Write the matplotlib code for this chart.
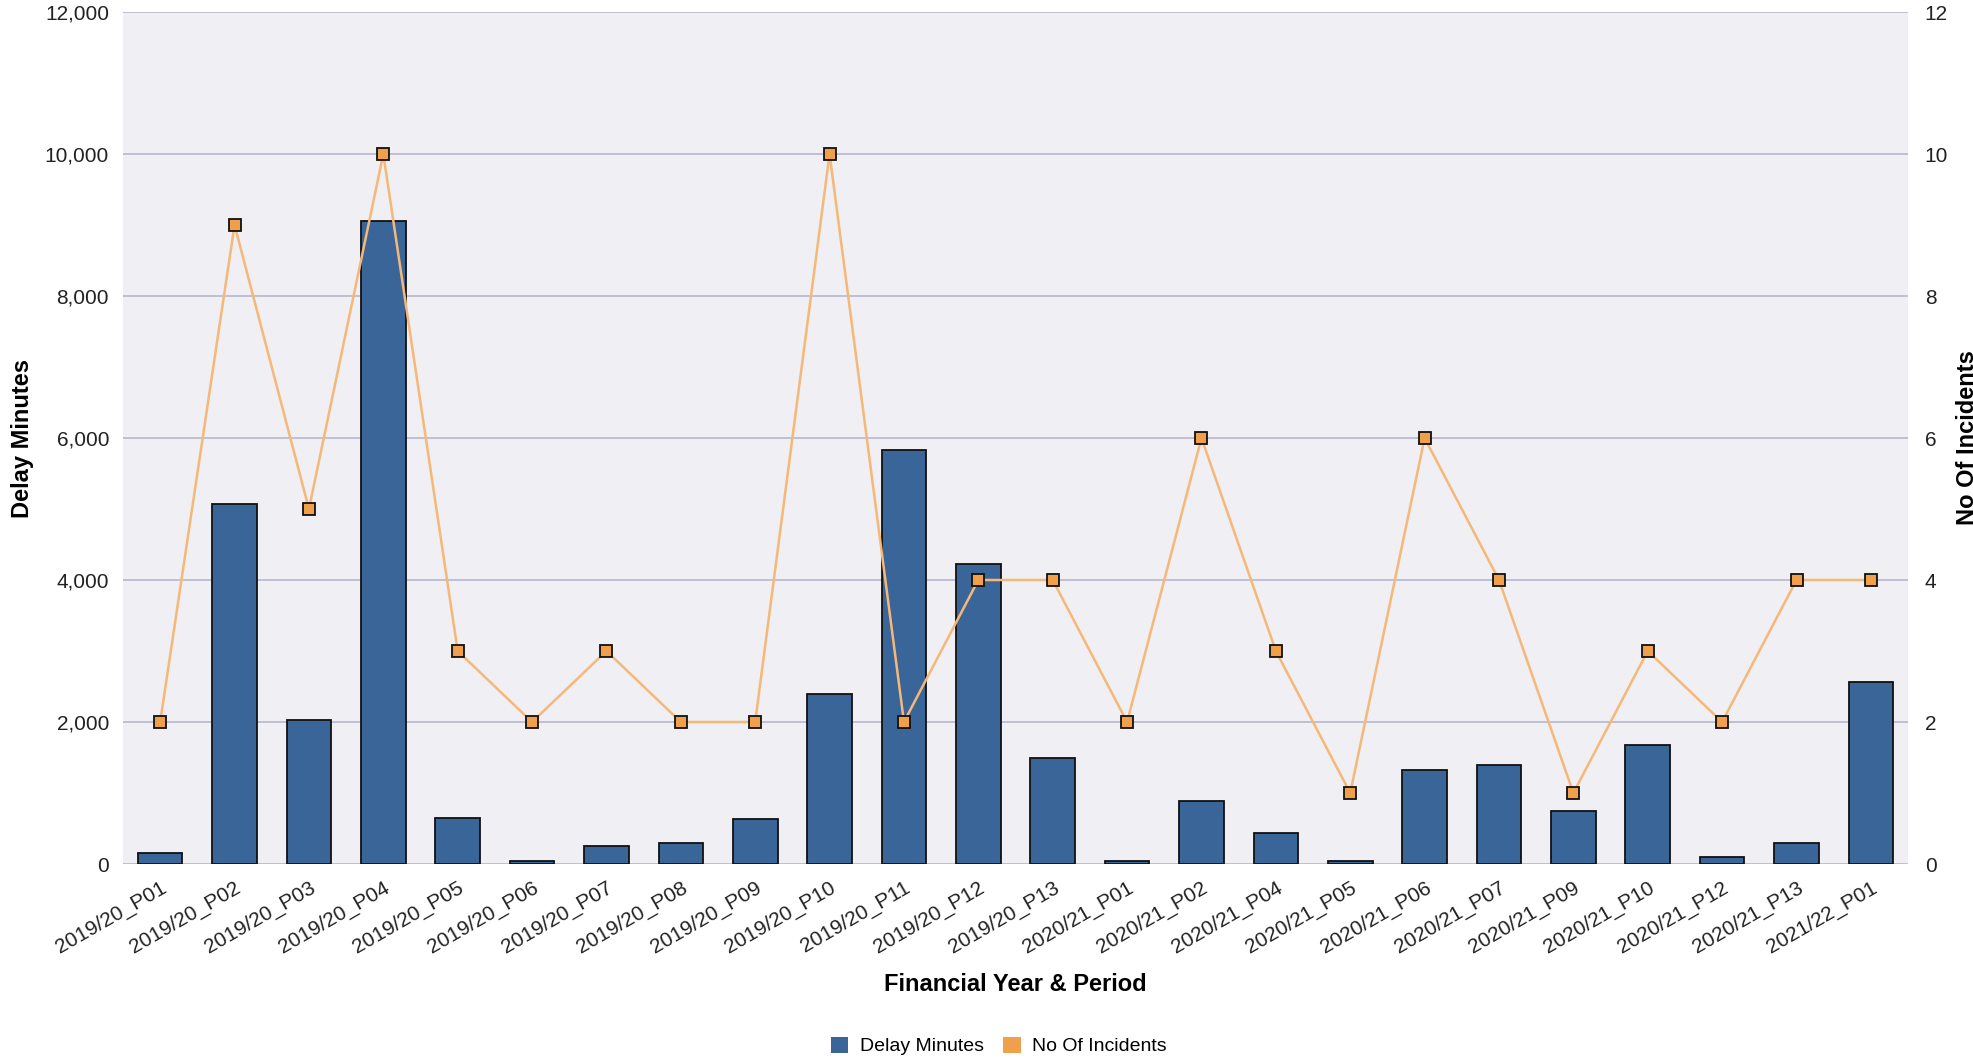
import numpy as np
import matplotlib
matplotlib.use("Agg")
import matplotlib.pyplot as plt
from matplotlib.ticker import FuncFormatter
from matplotlib.patches import Patch

plt.rcParams['font.family'] = ['Liberation Sans', 'DejaVu Sans']

periods = ['2019/20_P01', '2019/20_P02', '2019/20_P03', '2019/20_P04', '2019/20_P05',
           '2019/20_P06', '2019/20_P07', '2019/20_P08', '2019/20_P09', '2019/20_P10',
           '2019/20_P11', '2019/20_P12', '2019/20_P13', '2020/21_P01', '2020/21_P02',
           '2020/21_P04', '2020/21_P05', '2020/21_P06', '2020/21_P07', '2020/21_P09',
           '2020/21_P10', '2020/21_P12', '2020/21_P13', '2021/22_P01']
delay_minutes = [150, 5070, 2030, 9050, 650, 40, 260, 290, 630, 2400,
                 5830, 4220, 1500, 40, 890, 440, 40, 1330, 1390, 750,
                 1670, 100, 290, 2570]
incidents = [2, 9, 5, 10, 3, 2, 3, 2, 2, 10, 2, 4, 4, 2, 6, 3, 1, 6, 4, 1, 3, 2, 4, 4]

bar_color = '#3A6598'
line_color = '#F5B878'
marker_color = '#F0A04B'
grid_color = '#BCBCD2'

fig = plt.figure(figsize=(19.74, 10.63), dpi=100)
ax = fig.add_axes([0.0623, 0.1872, 0.9043, 0.8015])
ax.set_facecolor('#EFEFF4')
x = np.arange(len(periods))

ax.bar(x, delay_minutes, width=0.6, color=bar_color, edgecolor='#111111',
       linewidth=1.3, zorder=3)
ax.set_xlim(-0.5, len(periods) - 0.5)
ax.set_ylim(0, 12000)
ax.set_yticks(np.arange(0, 12001, 2000))
ax.yaxis.set_major_formatter(FuncFormatter(lambda v, p: f'{int(v):,}'))
ax.grid(axis='y', color=grid_color, linewidth=1.3, zorder=0)
ax.set_axisbelow(True)
for s in ax.spines.values():
    s.set_visible(False)
ax.set_xticks(x)
ax.set_xticklabels(periods, rotation=30, ha='right', rotation_mode='anchor',
                   fontsize=14, color='#222222')
ax.tick_params(axis='both', length=0, labelsize=15, labelcolor='#222222')
ax.tick_params(axis='x', pad=10)
ax.tick_params(axis='y', pad=10)
ax.set_ylabel('Delay Minutes', fontsize=17, fontweight='bold', labelpad=8)
ax.set_xlabel('Financial Year & Period', fontsize=17, fontweight='bold', labelpad=12)

ax2 = ax.twinx()
ax2.plot(x, incidents, color=line_color, linewidth=1.8, marker='s',
         markersize=9, markerfacecolor=marker_color, markeredgecolor='#111111',
         markeredgewidth=1.3, zorder=4)
ax2.set_ylim(0, 12)
ax2.set_yticks(np.arange(0, 13, 2))
ax2.tick_params(axis='y', length=0, labelsize=15, labelcolor='#222222', pad=12)
for s in ax2.spines.values():
    s.set_visible(False)

# the reference cuts this label at the right edge
fig.text(0.991, 0.588, 'No Of Incidents', rotation=90, ha='left', va='center',
         fontsize=17, fontweight='bold')

handles = [Patch(facecolor=bar_color, label='Delay Minutes'),
           Patch(facecolor=marker_color, label='No Of Incidents')]
fig.legend(handles=handles, loc='center', bbox_to_anchor=(0.506, 0.016), ncol=2,
           frameon=False, fontsize=14, handlelength=0.9, handleheight=0.9,
           handletextpad=0.6, columnspacing=1.0)

fig.savefig('out.png', dpi=100)
